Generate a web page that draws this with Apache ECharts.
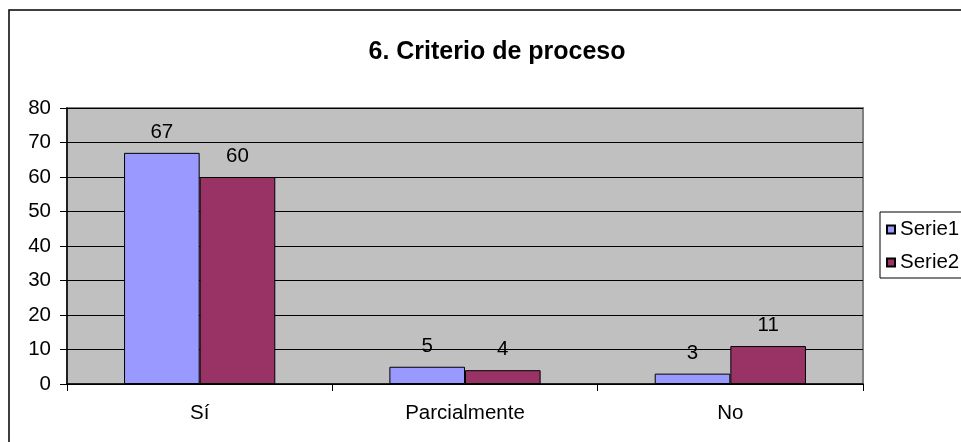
<!DOCTYPE html>
<html>
<head>
<meta charset="utf-8">
<script src="https://cdn.jsdelivr.net/npm/echarts@6/dist/echarts.min.js"></script>
<style>
  html, body { margin: 0; padding: 0; background: #fff; }
  #chart { width: 961px; height: 442px; }
</style>
</head>
<body>
<div id="chart"></div>
<script>
// Chart data
const titleText = '6. Criterio de proceso';
const categories = ['Sí', 'Parcialmente', 'No'];
const serie1 = [67, 5, 3];
const serie2 = [60, 4, 11];
const seriesNames = ['Serie1', 'Serie2'];
const yMin = 0, yMax = 80, yStep = 10;

const FONT = '"Liberation Sans", Arial, sans-serif';
const TEXT_SIZE = 20.5;

const chart = echarts.init(document.getElementById('chart'), null, { renderer: 'canvas' });

const barLabel = {
  show: true,
  position: 'top',
  distance: 10,
  color: '#000',
  fontFamily: FONT,
  fontSize: TEXT_SIZE
};

chart.setOption({
  animation: false,
  backgroundColor: '#fff',
  textStyle: { fontFamily: FONT },
  title: {
    text: titleText,
    left: 492,
    top: 35,
    textAlign: 'center',
    textStyle: { fontFamily: FONT, fontSize: 25, fontWeight: 'bold', color: '#000' }
  },
  graphic: [{
    type: 'rect',
    z: -1,
    silent: true,
    shape: { x: 9, y: 10, width: 1100, height: 600 },
    style: { fill: 'none', stroke: '#000', lineWidth: 1.5 }
  }],
  legend: {
    orient: 'vertical',
    left: 880,
    top: 212,
    padding: [7, 40, 5, 6],
    itemGap: 12,
    itemWidth: 8,
    itemHeight: 8,
    backgroundColor: '#fff',
    borderColor: '#000',
    borderWidth: 1,
    icon: 'rect',
    textStyle: { fontFamily: FONT, fontSize: TEXT_SIZE, color: '#000' },
    data: seriesNames
  },
  grid: {
    left: 67,
    top: 108,
    right: 98,
    bottom: 58,
    show: true,
    backgroundColor: '#C0C0C0',
    borderColor: '#808080',
    borderWidth: 2
  },
  xAxis: {
    type: 'category',
    data: categories,
    axisLine: { lineStyle: { color: '#000', width: 1.5 } },
    axisTick: { show: true, length: 7, lineStyle: { color: '#000' } },
    axisLabel: { color: '#000', fontFamily: FONT, fontSize: TEXT_SIZE, margin: 19 },
    splitLine: { show: false }
  },
  yAxis: {
    type: 'value',
    min: yMin,
    max: yMax,
    interval: yStep,
    axisLine: { show: true, lineStyle: { color: '#000', width: 1.5 } },
    axisTick: { show: true, length: 7, lineStyle: { color: '#000' } },
    axisLabel: { color: '#000', fontFamily: FONT, fontSize: TEXT_SIZE, margin: 16 },
    splitLine: { show: true, lineStyle: { color: '#000', width: 1 } }
  },
  series: [
    {
      name: seriesNames[0],
      type: 'bar',
      data: serie1,
      barGap: '0%',
      barCategoryGap: '43%',
      itemStyle: { color: '#9999FF', borderColor: '#000', borderWidth: 1 },
      label: barLabel
    },
    {
      name: seriesNames[1],
      type: 'bar',
      data: serie2,
      barGap: '0%',
      barCategoryGap: '43%',
      itemStyle: { color: '#993366', borderColor: '#000', borderWidth: 1 },
      label: barLabel
    }
  ]
});
</script>
</body>
</html>
